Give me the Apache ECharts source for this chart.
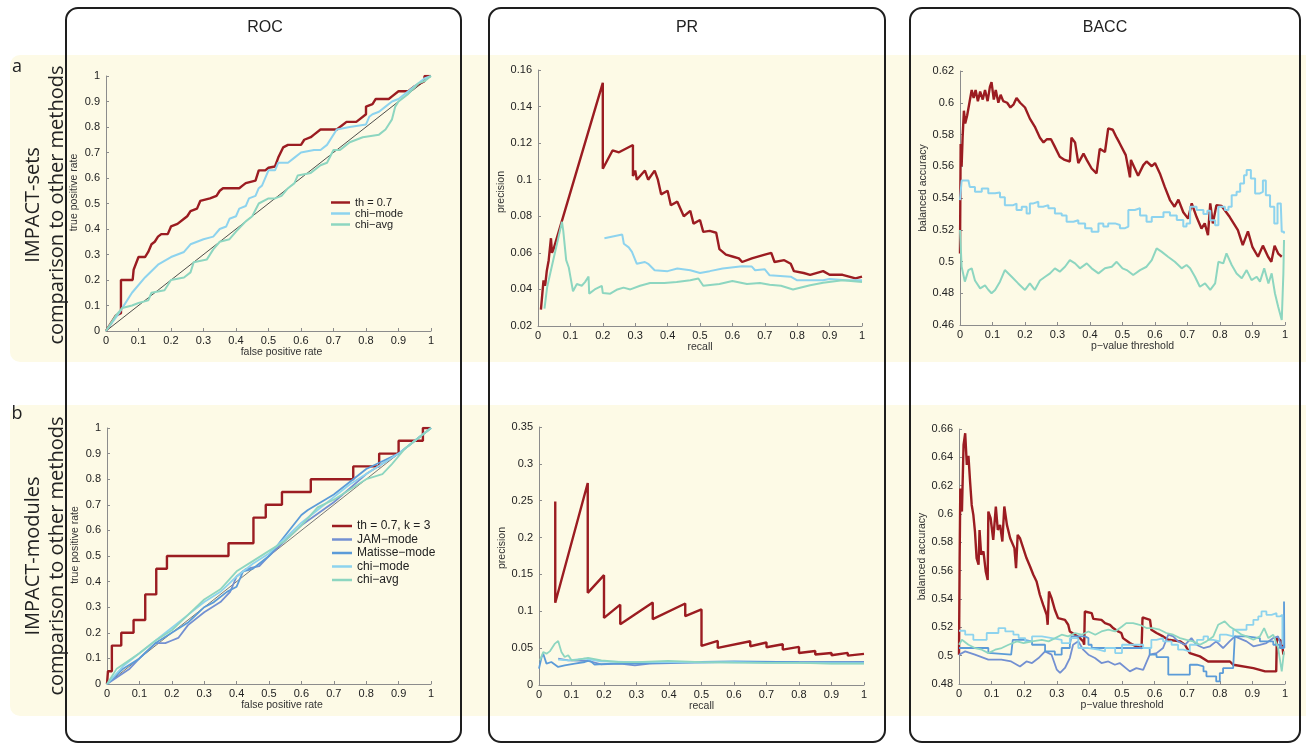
<!DOCTYPE html>
<html><head><meta charset="utf-8">
<script src="https://cdn.jsdelivr.net/npm/echarts@6/dist/echarts.min.js"></script>
<style>html,body{margin:0;padding:0;background:#fff}#c{width:1306px;height:745px}</style>
</head><body><div id="c"></div><script>
// ---------- tick / category texts ----------
const colTitles = ['ROC', 'PR', 'BACC'];
const rowLetters = ['a', 'b'];
const rowLine1 = ['IMPACT-sets', 'IMPACT-modules'];
const rowLine2 = ['comparison to other methods', 'comparison to other methods'];
const xNames = ['false positive rate', 'recall', 'p\u2212value threshold'];
const yNames = ['true positive rate', 'precision', 'balanced accuracy'];
const legendA = ['th = 0.7', 'chi\u2212mode', 'chi\u2212avg'];
const legendB = ['th = 0.7, k = 3', 'JAM\u2212mode', 'Matisse\u2212mode', 'chi\u2212mode', 'chi\u2212avg'];

// ---------- row a: IMPACT-sets ----------
const rocA_th = [[0,0],[0.03,0.06],[0.046,0.07],[0.046,0.2],[0.082,0.2],[0.085,0.24],[0.1,0.29],[0.12,0.29],[0.13,0.31],[0.14,0.34],[0.15,0.35],[0.16,0.37],[0.17,0.38],[0.19,0.38],[0.2,0.41],[0.22,0.42],[0.24,0.44],[0.25,0.45],[0.26,0.47],[0.28,0.48],[0.29,0.51],[0.32,0.52],[0.34,0.53],[0.35,0.55],[0.36,0.56],[0.41,0.56],[0.42,0.57],[0.43,0.58],[0.46,0.59],[0.47,0.63],[0.49,0.63],[0.5,0.64],[0.52,0.645],[0.53,0.68],[0.545,0.72],[0.56,0.73],[0.6,0.73],[0.61,0.75],[0.63,0.76],[0.64,0.77],[0.66,0.79],[0.71,0.79],[0.72,0.8],[0.74,0.82],[0.77,0.82],[0.78,0.83],[0.8,0.85],[0.8,0.88],[0.82,0.89],[0.83,0.91],[0.87,0.91],[0.88,0.92],[0.9,0.94],[0.93,0.94],[0.95,0.96],[0.98,0.98],[0.98,1.0],[1,1]];
const rocA_mode = [[0,0],[0.04,0.07],[0.08,0.15],[0.12,0.21],[0.16,0.26],[0.2,0.29],[0.24,0.31],[0.26,0.34],[0.3,0.36],[0.33,0.37],[0.35,0.4],[0.37,0.41],[0.38,0.44],[0.4,0.45],[0.41,0.48],[0.43,0.49],[0.44,0.52],[0.46,0.53],[0.47,0.56],[0.48,0.57],[0.5,0.63],[0.52,0.63],[0.53,0.66],[0.56,0.66],[0.58,0.68],[0.6,0.7],[0.64,0.71],[0.66,0.71],[0.68,0.73],[0.71,0.79],[0.75,0.8],[0.8,0.81],[0.81,0.84],[0.82,0.85],[0.84,0.86],[0.86,0.88],[0.88,0.9],[0.9,0.91],[0.93,0.94],[0.96,0.97],[0.98,0.99],[1,1]];
const rocA_avg = [[0,0],[0.03,0.06],[0.05,0.09],[0.08,0.1],[0.1,0.11],[0.13,0.12],[0.14,0.15],[0.18,0.16],[0.2,0.2],[0.24,0.21],[0.26,0.23],[0.27,0.27],[0.31,0.28],[0.33,0.32],[0.35,0.35],[0.38,0.36],[0.4,0.39],[0.43,0.43],[0.45,0.45],[0.47,0.5],[0.5,0.52],[0.52,0.52],[0.54,0.53],[0.56,0.56],[0.58,0.58],[0.59,0.61],[0.63,0.62],[0.66,0.65],[0.68,0.66],[0.7,0.71],[0.72,0.71],[0.73,0.72],[0.75,0.74],[0.77,0.75],[0.79,0.76],[0.84,0.77],[0.86,0.79],[0.87,0.81],[0.88,0.83],[0.89,0.88],[0.9,0.9],[0.93,0.93],[0.96,0.97],[0.98,0.98],[1,1]];
const diag = [[0,0],[1,1]];

const prA_th = [[0.009,0.029],[0.017,0.045],[0.022,0.042],[0.027,0.05],[0.033,0.056],[0.04,0.068],[0.043,0.06],[0.048,0.062],[0.2,0.153],[0.2,0.106],[0.23,0.116],[0.25,0.115],[0.293,0.119],[0.293,0.102],[0.3,0.105],[0.305,0.1],[0.33,0.105],[0.34,0.1],[0.36,0.105],[0.37,0.1],[0.38,0.092],[0.4,0.094],[0.41,0.086],[0.43,0.088],[0.45,0.08],[0.47,0.083],[0.48,0.076],[0.5,0.078],[0.51,0.0715],[0.53,0.072],[0.55,0.071],[0.56,0.062],[0.58,0.059],[0.6,0.058],[0.62,0.057],[0.63,0.055],[0.66,0.057],[0.7,0.059],[0.72,0.06],[0.73,0.055],[0.76,0.056],[0.78,0.054],[0.79,0.05],[0.82,0.049],[0.84,0.048],[0.88,0.05],[0.9,0.048],[0.94,0.048],[0.96,0.047],[0.98,0.046],[1.0,0.047]];
const prA_mode = [[0.205,0.068],[0.26,0.07],[0.265,0.065],[0.28,0.063],[0.29,0.0605],[0.305,0.054],[0.33,0.055],[0.34,0.054],[0.36,0.0505],[0.4,0.05],[0.43,0.0514],[0.47,0.0505],[0.5,0.049],[0.53,0.05],[0.57,0.0514],[0.63,0.0527],[0.66,0.0525],[0.67,0.0505],[0.7,0.051],[0.715,0.0477],[0.78,0.047],[0.8,0.045],[0.84,0.045],[0.88,0.045],[0.9,0.0457],[0.95,0.045],[1,0.045]];
const prA_avg = [[0.02,0.0295],[0.028,0.041],[0.038,0.049],[0.074,0.077],[0.078,0.072],[0.087,0.056],[0.095,0.052],[0.1,0.047],[0.108,0.039],[0.12,0.043],[0.135,0.042],[0.145,0.044],[0.156,0.047],[0.158,0.0377],[0.175,0.04],[0.197,0.042],[0.2,0.038],[0.223,0.0377],[0.245,0.04],[0.264,0.041],[0.285,0.04],[0.315,0.042],[0.346,0.0435],[0.39,0.0435],[0.428,0.044],[0.47,0.045],[0.495,0.046],[0.51,0.042],[0.56,0.043],[0.6,0.0446],[0.645,0.043],[0.685,0.0435],[0.715,0.0425],[0.75,0.042],[0.787,0.04],[0.84,0.0423],[0.88,0.0437],[0.94,0.045],[1,0.044]];

const baccA_th = [[0,0.505],[0.002,0.574],[0.005,0.56],[0.008,0.578],[0.012,0.595],[0.016,0.587],[0.022,0.592],[0.029,0.6],[0.036,0.608],[0.042,0.603],[0.048,0.608],[0.055,0.601],[0.062,0.607],[0.07,0.602],[0.077,0.608],[0.085,0.601],[0.092,0.61],[0.097,0.613],[0.104,0.602],[0.11,0.608],[0.118,0.6],[0.125,0.605],[0.133,0.601],[0.145,0.6],[0.155,0.597],[0.165,0.599],[0.174,0.603],[0.185,0.6],[0.2,0.597],[0.215,0.59],[0.23,0.585],[0.246,0.578],[0.257,0.575],[0.267,0.577],[0.28,0.577],[0.29,0.573],[0.307,0.566],[0.322,0.564],[0.338,0.563],[0.343,0.578],[0.354,0.575],[0.364,0.562],[0.38,0.568],[0.39,0.564],[0.405,0.5586],[0.42,0.5555],[0.43,0.571],[0.446,0.569],[0.456,0.5838],[0.47,0.583],[0.482,0.578],[0.49,0.575],[0.51,0.567],[0.523,0.553],[0.526,0.564],[0.548,0.554],[0.564,0.5607],[0.574,0.563],[0.59,0.56],[0.6,0.562],[0.615,0.5555],[0.63,0.547],[0.646,0.5387],[0.66,0.5345],[0.672,0.539],[0.687,0.531],[0.702,0.527],[0.713,0.5366],[0.728,0.528],[0.743,0.5208],[0.753,0.524],[0.763,0.5166],[0.77,0.5366],[0.778,0.524],[0.789,0.5355],[0.805,0.535],[0.83,0.528],[0.855,0.5198],[0.87,0.5103],[0.886,0.519],[0.9,0.509],[0.917,0.503],[0.932,0.51],[0.948,0.503],[0.958,0.4998],[0.968,0.51],[0.979,0.505],[0.99,0.503]];
const baccA_mode = [[0,0.5387],[0.005,0.551],[0.026,0.551],[0.03,0.547],[0.046,0.5439],[0.067,0.546],[0.087,0.543],[0.108,0.5435],[0.123,0.5405],[0.138,0.5355],[0.164,0.5365],[0.174,0.5324],[0.19,0.5345],[0.205,0.5303],[0.215,0.5366],[0.226,0.5376],[0.241,0.5345],[0.256,0.5355],[0.272,0.5335],[0.292,0.5303],[0.313,0.529],[0.328,0.525],[0.349,0.526],[0.364,0.524],[0.385,0.5209],[0.405,0.5187],[0.426,0.524],[0.441,0.522],[0.456,0.524],[0.477,0.523],[0.492,0.521],[0.508,0.522],[0.518,0.5324],[0.538,0.5335],[0.554,0.529],[0.574,0.525],[0.59,0.528],[0.61,0.528],[0.626,0.531],[0.646,0.529],[0.667,0.5261],[0.687,0.522],[0.697,0.524],[0.708,0.5345],[0.728,0.5324],[0.749,0.53],[0.761,0.532],[0.77,0.526],[0.785,0.5229],[0.795,0.5345],[0.815,0.5324],[0.826,0.5345],[0.836,0.5418],[0.851,0.5439],[0.862,0.5492],[0.874,0.5544],[0.882,0.5576],[0.895,0.5523],[0.908,0.5429],[0.923,0.5439],[0.932,0.551],[0.941,0.5418],[0.954,0.5345],[0.967,0.524],[0.977,0.5366],[0.987,0.5366],[0.99,0.5187],[0.997,0.5177]];
const baccA_avg = [[0,0.5198],[0.005,0.4967],[0.015,0.4873],[0.026,0.4946],[0.036,0.4957],[0.046,0.488],[0.062,0.4831],[0.077,0.485],[0.087,0.4822],[0.097,0.48],[0.108,0.4821],[0.123,0.4873],[0.138,0.4946],[0.159,0.4904],[0.179,0.4862],[0.2,0.4821],[0.215,0.4862],[0.23,0.4821],[0.246,0.488],[0.262,0.4904],[0.277,0.4925],[0.292,0.4957],[0.307,0.4936],[0.323,0.4967],[0.338,0.5009],[0.354,0.4988],[0.369,0.4957],[0.39,0.4988],[0.405,0.4957],[0.426,0.4925],[0.446,0.4957],[0.467,0.4967],[0.482,0.4998],[0.5,0.4957],[0.513,0.4946],[0.533,0.4915],[0.554,0.4946],[0.574,0.4967],[0.59,0.5009],[0.605,0.5083],[0.62,0.5062],[0.64,0.503],[0.661,0.4998],[0.682,0.4957],[0.697,0.4978],[0.708,0.4957],[0.723,0.4904],[0.738,0.4841],[0.754,0.4862],[0.77,0.4821],[0.785,0.4862],[0.795,0.4998],[0.81,0.4988],[0.82,0.5051],[0.836,0.4978],[0.851,0.4925],[0.867,0.4894],[0.882,0.4946],[0.897,0.4883],[0.913,0.4904],[0.923,0.4873],[0.936,0.4957],[0.949,0.4862],[0.959,0.4925],[0.969,0.48],[0.979,0.4715],[0.99,0.4631],[0.995,0.4925],[0.997,0.5135]];

// ---------- row b: IMPACT-modules ----------
const rocB_th = [[0,0],[0.003,0],[0.003,0.05],[0.015,0.05],[0.015,0.15],[0.044,0.15],[0.044,0.2],[0.082,0.2],[0.082,0.25],[0.118,0.25],[0.118,0.35],[0.152,0.35],[0.152,0.45],[0.185,0.45],[0.185,0.5],[0.375,0.5],[0.375,0.55],[0.452,0.55],[0.452,0.65],[0.49,0.65],[0.49,0.7],[0.54,0.7],[0.54,0.75],[0.629,0.75],[0.629,0.8],[0.76,0.8],[0.76,0.85],[0.84,0.85],[0.84,0.9],[0.9,0.9],[0.9,0.95],[0.975,0.95],[0.975,1],[1,1]];
const rocB_jam = [[0,0],[0.07,0.06],[0.1,0.1],[0.15,0.16],[0.18,0.16],[0.2,0.17],[0.22,0.18],[0.25,0.23],[0.3,0.28],[0.35,0.32],[0.38,0.36],[0.4,0.42],[0.43,0.45],[0.47,0.46],[0.5,0.5],[0.55,0.56],[0.6,0.62],[0.7,0.71],[0.8,0.82],[0.9,0.9],[1,1]];
const rocB_mat = [[0,0],[0.05,0.06],[0.1,0.1],[0.15,0.16],[0.2,0.2],[0.25,0.24],[0.3,0.3],[0.33,0.32],[0.37,0.36],[0.4,0.38],[0.42,0.44],[0.45,0.45],[0.5,0.5],[0.55,0.58],[0.6,0.66],[0.62,0.68],[0.7,0.74],[0.76,0.8],[0.8,0.84],[0.85,0.87],[0.9,0.9],[0.95,0.95],[1,1]];
const rocB_mode = [[0,0],[0.05,0.07],[0.1,0.12],[0.15,0.17],[0.2,0.22],[0.25,0.27],[0.3,0.32],[0.35,0.36],[0.4,0.42],[0.45,0.47],[0.5,0.51],[0.55,0.57],[0.6,0.63],[0.65,0.68],[0.7,0.73],[0.75,0.78],[0.8,0.82],[0.85,0.86],[0.9,0.9],[0.95,0.95],[1,1]];
const rocB_avg = [[0,0],[0.03,0.06],[0.1,0.12],[0.15,0.17],[0.2,0.21],[0.25,0.27],[0.3,0.33],[0.35,0.37],[0.4,0.44],[0.45,0.48],[0.5,0.52],[0.55,0.56],[0.6,0.62],[0.65,0.69],[0.7,0.72],[0.75,0.76],[0.8,0.8],[0.85,0.82],[0.88,0.86],[0.92,0.92],[0.96,0.96],[1,1]];

const prB_th = [[0.05,0.249],[0.05,0.1115],[0.15,0.274],[0.15,0.125],[0.2,0.149],[0.2,0.091],[0.25,0.109],[0.25,0.0825],[0.35,0.112],[0.35,0.0893],[0.45,0.1106],[0.45,0.0934],[0.5,0.1025],[0.5,0.053],[0.55,0.0598],[0.55,0.0503],[0.65,0.0594],[0.65,0.0526],[0.7,0.0576],[0.7,0.0512],[0.75,0.0553],[0.75,0.048],[0.8,0.0517],[0.8,0.0435],[0.85,0.0462],[0.85,0.0413],[0.9,0.0435],[0.9,0.0403],[0.95,0.0435],[0.95,0.0399],[1,0.0422]];
const prB_jam = [[0.059,0.0358],[0.09,0.0335],[0.151,0.0326],[0.192,0.028],[0.25,0.029],[0.295,0.0267],[0.34,0.029],[0.44,0.03],[0.6,0.0315],[0.8,0.031],[1,0.0312]];
const prB_mat = [[0,0.0222],[0.008,0.038],[0.013,0.0425],[0.023,0.029],[0.038,0.0312],[0.059,0.0245],[0.079,0.0267],[0.11,0.029],[0.141,0.0312],[0.156,0.0335],[0.171,0.0276],[0.22,0.029],[0.3,0.029],[0.4,0.0305],[0.6,0.032],[0.8,0.031],[1,0.0303]];
const prB_mode = [[0.059,0.0344],[0.09,0.0335],[0.141,0.0358],[0.19,0.032],[0.3,0.031],[0.4,0.031],[0.5,0.0305],[0.6,0.031],[0.7,0.03],[0.8,0.03],[0.9,0.0295],[1,0.0295]];
const prB_avg = [[0.003,0.0335],[0.013,0.0448],[0.023,0.0425],[0.033,0.0456],[0.049,0.0562],[0.059,0.0598],[0.069,0.0448],[0.079,0.038],[0.09,0.0403],[0.1,0.0335],[0.12,0.0344],[0.151,0.0367],[0.192,0.0335],[0.244,0.0312],[0.3,0.031],[0.397,0.0326],[0.5,0.031],[0.6,0.0303],[0.7,0.03],[0.8,0.03],[0.9,0.029],[1,0.029]];

const baccB_th = [[0,0.5007],[0.002,0.5689],[0.004,0.618],[0.009,0.6017],[0.014,0.6488],[0.019,0.657],[0.024,0.6347],[0.029,0.641],[0.034,0.6229],[0.039,0.6064],[0.044,0.5994],[0.049,0.5876],[0.054,0.5689],[0.06,0.5642],[0.063,0.5887],[0.068,0.5713],[0.075,0.5736],[0.082,0.5595],[0.088,0.5535],[0.09,0.6017],[0.097,0.597],[0.105,0.5817],[0.113,0.6053],[0.119,0.5887],[0.126,0.5923],[0.133,0.5806],[0.139,0.6053],[0.147,0.5923],[0.157,0.5829],[0.17,0.5759],[0.175,0.5618],[0.18,0.5853],[0.187,0.5829],[0.197,0.5759],[0.207,0.5689],[0.218,0.5629],[0.228,0.5571],[0.238,0.5524],[0.248,0.543],[0.258,0.536],[0.269,0.5289],[0.272,0.5218],[0.276,0.5453],[0.284,0.5406],[0.294,0.5324],[0.304,0.5265],[0.325,0.5253],[0.335,0.5218],[0.34,0.5171],[0.356,0.5148],[0.371,0.5124],[0.381,0.51],[0.384,0.5077],[0.386,0.5312],[0.407,0.53],[0.412,0.526],[0.437,0.5253],[0.448,0.523],[0.463,0.5218],[0.473,0.5195],[0.488,0.5171],[0.498,0.516],[0.503,0.5124],[0.524,0.5089],[0.544,0.5066],[0.56,0.5054],[0.563,0.527],[0.586,0.5253],[0.59,0.5183],[0.606,0.516],[0.626,0.5136],[0.642,0.5112],[0.678,0.5101],[0.693,0.5077],[0.708,0.5018],[0.739,0.4995],[0.764,0.4959],[0.831,0.4959],[0.841,0.4936],[0.903,0.4912],[0.939,0.4889],[0.973,0.4889],[0.975,0.5124],[0.99,0.5101],[0.995,0.5007]];
const baccB_jam = [[0,0.5007],[0.019,0.503],[0.049,0.5007],[0.09,0.4972],[0.13,0.4972],[0.16,0.4959],[0.187,0.4924],[0.207,0.4959],[0.224,0.4948],[0.244,0.4983],[0.264,0.503],[0.284,0.5007],[0.3,0.4901],[0.31,0.4878],[0.325,0.4913],[0.34,0.4983],[0.35,0.5077],[0.366,0.5101],[0.381,0.5042],[0.397,0.5007],[0.417,0.4983],[0.437,0.4948],[0.458,0.4959],[0.478,0.4936],[0.493,0.4948],[0.524,0.4889],[0.544,0.4912],[0.565,0.49],[0.585,0.5007],[0.606,0.5018],[0.626,0.5054],[0.642,0.5148],[0.657,0.5136],[0.672,0.5101],[0.693,0.5077],[0.713,0.5124],[0.728,0.5077],[0.75,0.5054],[0.77,0.5066],[0.789,0.5101],[0.81,0.5054],[0.83,0.5101],[0.846,0.5136],[0.882,0.5101],[0.903,0.5066],[0.923,0.5077],[0.943,0.5089],[0.964,0.5124],[0.979,0.5136],[0.99,0.5054],[0.997,0.5066]];
const baccB_mat = [[0,0.5054],[0.05,0.5054],[0.09,0.5018],[0.1,0.5007],[0.16,0.5007],[0.165,0.5112],[0.2,0.5101],[0.224,0.5077],[0.254,0.5077],[0.264,0.503],[0.294,0.5007],[0.315,0.5054],[0.34,0.5077],[0.345,0.5136],[0.386,0.5124],[0.397,0.5077],[0.407,0.5054],[0.5,0.5054],[0.565,0.5054],[0.585,0.5007],[0.606,0.499],[0.642,0.4866],[0.7,0.4866],[0.708,0.4936],[0.73,0.4924],[0.75,0.4889],[0.759,0.4854],[0.789,0.4818],[0.8,0.4877],[0.81,0.4912],[0.841,0.4912],[0.846,0.5136],[0.882,0.5124],[0.923,0.5101],[0.964,0.5077],[0.984,0.5054],[0.997,0.5383],[0.998,0.5054]];
const baccB_mode = [[0,0.5176],[0.019,0.5148],[0.044,0.5112],[0.085,0.516],[0.121,0.5195],[0.142,0.5171],[0.167,0.5148],[0.183,0.5124],[0.203,0.5101],[0.224,0.5136],[0.254,0.5124],[0.285,0.5112],[0.315,0.5089],[0.34,0.5124],[0.366,0.5054],[0.397,0.5042],[0.428,0.503],[0.448,0.5054],[0.479,0.5018],[0.5,0.5077],[0.565,0.5054],[0.59,0.5112],[0.606,0.5124],[0.626,0.5101],[0.652,0.5077],[0.672,0.5042],[0.688,0.503],[0.708,0.5077],[0.73,0.5112],[0.75,0.5136],[0.764,0.5112],[0.78,0.5101],[0.8,0.5148],[0.82,0.5136],[0.841,0.5183],[0.882,0.5218],[0.903,0.5253],[0.918,0.5277],[0.928,0.5312],[0.943,0.5288],[0.959,0.53],[0.974,0.5277],[0.984,0.5288],[0.992,0.5077]];
const baccB_avg = [[0,0.5077],[0.009,0.5112],[0.029,0.5077],[0.049,0.5054],[0.07,0.5042],[0.09,0.5018],[0.111,0.5042],[0.131,0.5054],[0.152,0.5077],[0.178,0.5101],[0.198,0.5089],[0.224,0.5101],[0.254,0.5112],[0.275,0.5101],[0.295,0.5124],[0.315,0.5148],[0.335,0.5136],[0.356,0.516],[0.376,0.5148],[0.397,0.5171],[0.418,0.5148],[0.437,0.5171],[0.458,0.5183],[0.479,0.5171],[0.5,0.5206],[0.513,0.523],[0.534,0.523],[0.554,0.5218],[0.575,0.5195],[0.595,0.5195],[0.616,0.5183],[0.636,0.516],[0.657,0.5148],[0.678,0.5124],[0.698,0.5112],[0.718,0.5101],[0.739,0.5077],[0.759,0.5101],[0.78,0.5136],[0.795,0.5218],[0.815,0.5242],[0.83,0.5206],[0.846,0.5183],[0.867,0.5148],[0.882,0.5136],[0.903,0.5112],[0.923,0.5136],[0.936,0.5195],[0.949,0.5124],[0.964,0.5148],[0.979,0.5054],[0.99,0.4889],[0.997,0.503]];

// ---------- axis ranges ----------
const yRanges = [[0,1,0.1],[0.02,0.16,0.02],[0.46,0.62,0.02],[0,1,0.1],[0,0.35,0.05],[0.48,0.66,0.02]];

// ---------- styling ----------
const COL = {th:'#9b1c21', jam:'#7390d2', mat:'#5b9bd8', mode:'#8dd3ee', avg:'#8dd6c0'};
const FONT = '"Liberation Sans", Arial, Helvetica, sans-serif';
const gridBoxes = [
  {left:106, top:76, width:325, height:255},
  {left:538, top:70, width:324, height:256},
  {left:960, top:71, width:325, height:254},
  {left:107, top:428, width:324, height:256},
  {left:539, top:427, width:325, height:258},
  {left:959, top:429, width:326, height:255}
];
const xNamePad = [26, 0, 20, 26, 0, 0];
const yNamePad = [22, 12, 20, 22, 16, 0];
const AX = '#8c8c8c';

const grid = gridBoxes.map(g => Object.assign({containLabel:false, outerBoundsMode:'none'}, g));
const xAxis = gridBoxes.map((g, i) => ({
  type:'value', gridIndex:i, min:0, max:1, interval:0.1,
  name: xNames[i % 3], nameLocation:'middle', nameGap:13,
  nameTextStyle:{fontSize:10.5, color:'#333', fontFamily:FONT, padding:[0,0,0,xNamePad[i]]},
  axisLine:{show:true, onZero:false, lineStyle:{color:AX, width:1}},
  axisTick:{show:true, inside:true, length:3, lineStyle:{color:AX}},
  axisLabel:{fontSize:11, color:'#222', margin:4, fontFamily:FONT, showMinLabel:true, showMaxLabel:true},
  splitLine:{show:false}
}));
const yAxis = gridBoxes.map((g, i) => ({
  type:'value', gridIndex:i, min:yRanges[i][0], max:yRanges[i][1], interval:yRanges[i][2],
  name: yNames[i % 3], nameLocation:'middle', nameGap:26,
  nameTextStyle:{fontSize:10.5, color:'#333', fontFamily:FONT, padding:[0,0,0,yNamePad[i]]},
  axisLine:{show:true, onZero:false, lineStyle:{color:AX, width:1}},
  axisTick:{show:true, inside:true, length:3, lineStyle:{color:AX}},
  axisLabel:{fontSize:11, color:'#222', margin:6, fontFamily:FONT, showMinLabel:true, showMaxLabel:true},
  splitLine:{show:false}
}));

function ln(name, data, color, gi, width, extra) {
  return Object.assign({
    type:'line', name:name, data:data, xAxisIndex:gi, yAxisIndex:gi,
    showSymbol:false, symbol:'none', silent:true, clip:true, animation:false,
    lineStyle:{color:color, width:width}, itemStyle:{color:color}
  }, extra || {});
}

const series = [
  ln('', diag, '#222', 0, 0.8),
  ln(legendA[0], rocA_th, COL.th, 0, 2.4),
  ln(legendA[1], rocA_mode, COL.mode, 0, 2),
  ln(legendA[2], rocA_avg, COL.avg, 0, 2),
  ln(legendA[0], prA_th, COL.th, 1, 2.4),
  ln(legendA[1], prA_mode, COL.mode, 1, 2),
  ln(legendA[2], prA_avg, COL.avg, 1, 2),
  ln(legendA[0], baccA_th, COL.th, 2, 2.4),
  ln(legendA[1], baccA_mode, COL.mode, 2, 2, {step:'end'}),
  ln(legendA[2], baccA_avg, COL.avg, 2, 2),
  ln('', diag, '#555', 3, 0.8),
  ln(legendB[0], rocB_th, COL.th, 3, 2.4),
  ln(legendB[1], rocB_jam, COL.jam, 3, 1.8),
  ln(legendB[2], rocB_mat, COL.mat, 3, 1.8),
  ln(legendB[3], rocB_mode, COL.mode, 3, 1.8),
  ln(legendB[4], rocB_avg, COL.avg, 3, 1.8),
  ln(legendB[0], prB_th, COL.th, 4, 2.4),
  ln(legendB[1], prB_jam, COL.jam, 4, 1.8),
  ln(legendB[2], prB_mat, COL.mat, 4, 1.8),
  ln(legendB[3], prB_mode, COL.mode, 4, 1.8),
  ln(legendB[4], prB_avg, COL.avg, 4, 1.8),
  ln(legendB[0], baccB_th, COL.th, 5, 2.4),
  ln(legendB[1], baccB_jam, COL.jam, 5, 1.8),
  ln(legendB[2], baccB_mat, COL.mat, 5, 1.8, {step:'end'}),
  ln(legendB[3], baccB_mode, COL.mode, 5, 1.8, {step:'end'}),
  ln(legendB[4], baccB_avg, COL.avg, 5, 1.8)
];

const legend = [
  {left:331, top:197, orient:'vertical', data:legendA, icon:'rect', itemWidth:19, itemHeight:2.5, itemGap:0, padding:0, selectedMode:false,
   textStyle:{fontSize:11, lineHeight:10.5, color:'#222', fontFamily:FONT}},
  {left:332, top:520, orient:'vertical', data:legendB, icon:'rect', itemWidth:20, itemHeight:2.5, itemGap:1.5, padding:0, selectedMode:false,
   textStyle:{fontSize:12, lineHeight:12, color:'#222', fontFamily:FONT}}
];

const graphic = [];
// yellow row bands
graphic.push({type:'rect', z:-10, silent:true, shape:{x:10, y:55, width:1310, height:307, r:[10,0,0,10]}, style:{fill:'#fdfae6'}});
graphic.push({type:'rect', z:-10, silent:true, shape:{x:10, y:405, width:1310, height:311, r:[10,0,0,10]}, style:{fill:'#fdfae6'}});
// column frames
const frames = [[66,395],[489,396],[910,390]];
frames.forEach(f => graphic.push({type:'rect', z:-5, silent:true, shape:{x:f[0], y:8, width:f[1], height:734, r:12}, style:{fill:'none', stroke:'#1e1e1e', lineWidth:2}}));
// column titles
const titleX = [265, 687, 1105];
colTitles.forEach((t, i) => graphic.push({type:'text', x:titleX[i], y:28, silent:true,
  style:{text:t, fontSize:16, fontFamily:FONT, fill:'#222', align:'center', verticalAlign:'middle', textAlign:'center', textVerticalAlign:'middle'}}));
// row letters
const letterY = [67, 414];
rowLetters.forEach((t, i) => graphic.push({type:'text', x:17, y:letterY[i], silent:true,
  style:{text:t, fontSize:18, fontFamily:'"Open Sans", sans-serif', fill:'#222', align:'center', verticalAlign:'middle', textAlign:'center', textVerticalAlign:'middle'}}));
// rotated row descriptions
const rowCY = [205, 556];
[0,1].forEach(i => {
  graphic.push({type:'text', x:33, y:rowCY[i], rotation:Math.PI/2, silent:true,
    style:{text:rowLine1[i], fontSize:20, fontFamily:'"Open Sans", sans-serif', fill:'#222', align:'center', verticalAlign:'middle', textAlign:'center', textVerticalAlign:'middle'}});
  graphic.push({type:'text', x:57, y:rowCY[i], rotation:Math.PI/2, silent:true,
    style:{text:rowLine2[i], fontSize:20, fontFamily:'"Open Sans", sans-serif', fill:'#222', align:'center', verticalAlign:'middle', textAlign:'center', textVerticalAlign:'middle'}});
});

const chart = echarts.init(document.getElementById('c'), null, {renderer:'canvas'});
chart.setOption({
  animation:false,
  backgroundColor:'#ffffff',
  grid:grid, xAxis:xAxis, yAxis:yAxis, series:series, legend:legend, graphic:graphic,
  tooltip:{show:false}
});
</script></body></html>
